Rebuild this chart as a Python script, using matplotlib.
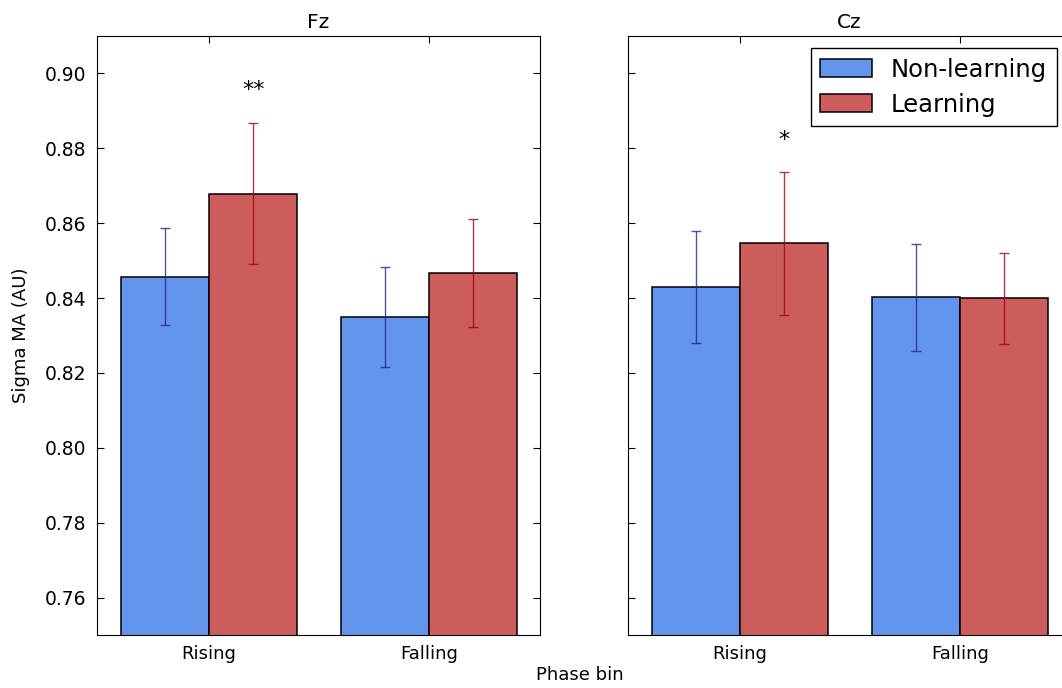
import numpy as np
import matplotlib
matplotlib.use('Agg')
import matplotlib.pyplot as plt

# data
channels = ['Fz', 'Cz']
phase_bins = ['Rising', 'Falling']
groups = ['Non-learning', 'Learning']

fz_means = [[0.8457, 0.8349], [0.8679, 0.8466]]
fz_errs = [[0.0129, 0.0133], [0.0189, 0.0144]]
cz_means = [[0.8429, 0.8402], [0.8547, 0.8399]]
cz_errs = [[0.0149, 0.0143], [0.0191, 0.0121]]

stars_fz = ['**', '']
stars_cz = ['*', '']
star_y_fz = [0.8957, None]
star_y_cz = [0.8823, None]

yticks = [0.76, 0.78, 0.80, 0.82, 0.84, 0.86, 0.88, 0.90]

bar_colors = ['#6495ED', '#CD5C5C']
err_colors = ['#1f2a88', '#9a0a0a']

plt.rcParams['xtick.direction'] = 'in'
plt.rcParams['ytick.direction'] = 'in'
plt.rcParams['xtick.top'] = True
plt.rcParams['ytick.right'] = True
plt.rcParams['font.family'] = 'DejaVu Sans'

fig = plt.figure(figsize=(10.62, 6.88), dpi=100)
ax1 = fig.add_axes([97 / 1062, 1 - 635 / 688, 443 / 1062, 599 / 688])
ax2 = fig.add_axes([628 / 1062, 1 - 635 / 688, 443 / 1062, 599 / 688], sharey=ax1)

x = np.arange(len(phase_bins))
w = 0.4
panels = [(ax1, fz_means, fz_errs, stars_fz, star_y_fz),
          (ax2, cz_means, cz_errs, stars_cz, star_y_cz)]

for i, (ax, means, errs, stars, star_y) in enumerate(panels):
    for g in range(2):
        pos = x - w / 2 + g * w
        ax.bar(pos, means[g], w, color=bar_colors[g], edgecolor='black',
               linewidth=1.1, label=groups[g], zorder=2)
        ax.errorbar(pos, means[g], yerr=errs[g], fmt='none',
                    ecolor=err_colors[g], elinewidth=1.0, capsize=3.5,
                    capthick=1.0, alpha=0.8, zorder=3)
    for k in range(len(phase_bins)):
        if stars[k]:
            ax.text(x[k] + w / 2, star_y[k], stars[k], ha='center',
                    va='center', fontsize=16)
    ax.set_xlim(-0.51, 1.505)
    ax.set_xticks(x)
    ax.set_xticklabels(phase_bins, fontsize=13)
    ax.set_title(channels[i], fontsize=14.5, pad=6)
    ax.tick_params(length=5, width=0.8)
    ax.tick_params(axis='x', pad=7)
    ax.tick_params(axis='y', pad=8)

ax1.set_ylim(0.75, 0.91)
ax1.set_yticks(yticks)
ax1.set_yticklabels(['%.2f' % v for v in yticks], fontsize=13.5)
ax2.tick_params(labelleft=False)
ax1.set_ylabel('Sigma MA (AU)', fontsize=13, labelpad=10)
fig.text(580 / 1062, 1 - 675 / 688, 'Phase bin', ha='center', va='center',
         fontsize=13)

ax2.legend(loc='upper right', bbox_to_anchor=(0.968, 0.98), borderaxespad=0,
           fontsize=17.5, fancybox=False, edgecolor='black', framealpha=1,
           handlelength=2.1, handleheight=0.75, handletextpad=0.8,
           labelspacing=0.45, borderpad=0.4)

fig.savefig('out.png', dpi=100)
